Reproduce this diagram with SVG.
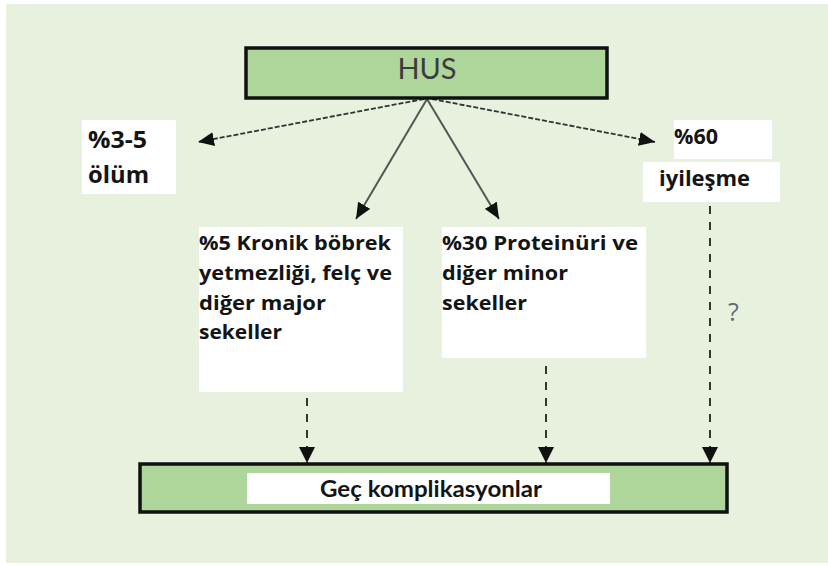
<svg xmlns="http://www.w3.org/2000/svg" width="828" height="566" viewBox="0 0 828 566">
<defs>
<style>
.box{fill:#AFD69A;stroke:#111;stroke-width:3.5}
.wb{fill:#fff}
.lbl{font-family:"Open Sans","Liberation Sans",sans-serif;font-weight:bold;fill:#141414}
.solid{stroke:#555;stroke-width:2;fill:none}
.fine{stroke:#333;stroke-width:1.8;fill:none;stroke-dasharray:5 2}
.dash{stroke:#222;stroke-width:1.8;fill:none;stroke-dasharray:8 8}
</style>
<marker id="ah" viewBox="0 0 16 14" refX="16" refY="7" markerWidth="16" markerHeight="14" markerUnits="userSpaceOnUse" orient="auto">
<path d="M0,0 L16,7 L0,14 Z" fill="#111"/>
</marker>
<marker id="ahd" viewBox="0 0 18 16" refX="16" refY="8" markerWidth="18" markerHeight="16" markerUnits="userSpaceOnUse" orient="auto">
<path d="M0,0 L16,8 L0,16 Z" fill="#111"/>
</marker>
</defs>
<rect x="0" y="0" width="828" height="566" fill="#fff"/>
<rect x="6" y="4" width="822" height="559" fill="#E8F0DE"/>

<g id="connectors">
<line class="fine" x1="424" y1="99" x2="198" y2="142" marker-end="url(#ah)"/>
<line class="fine" x1="432" y1="99" x2="655" y2="142" marker-end="url(#ah)"/>
<line class="solid" x1="427" y1="99" x2="356" y2="219" marker-end="url(#ah)"/>
<line class="solid" x1="427" y1="99" x2="499" y2="219" marker-end="url(#ah)"/>
<line class="dash" x1="307" y1="398" x2="307" y2="463" marker-end="url(#ahd)"/>
<line class="dash" x1="546" y1="366" x2="546" y2="463" marker-end="url(#ahd)"/>
<line class="dash" x1="710" y1="206" x2="710" y2="463" marker-end="url(#ahd)"/>
<text x="728" y="321" font-family="'Open Sans','Liberation Sans',sans-serif" font-size="25" fill="#5F6B78">?</text>
</g>

<g id="hus">
<rect class="box" x="246" y="48" width="361" height="50"/>
<text x="427" y="79" text-anchor="middle" font-family="Lato,'Liberation Sans',sans-serif" font-size="29" fill="#3C3C3C">HUS</text>
</g>

<g id="olum">
<rect class="wb" x="82" y="120" width="94" height="74"/>
<text class="lbl" x="88" y="148" font-size="24" textLength="59" lengthAdjust="spacingAndGlyphs">%3-5</text>
<text class="lbl" x="88" y="183" font-size="24" textLength="61" lengthAdjust="spacingAndGlyphs">ölüm</text>
</g>

<g id="iyilesme">
<rect class="wb" x="674" y="120" width="98" height="39"/>
<rect class="wb" x="643" y="162" width="137" height="40"/>
<text class="lbl" x="674" y="144" font-size="21" textLength="44" lengthAdjust="spacingAndGlyphs">%60</text>
<text class="lbl" x="659" y="186" font-size="21" textLength="91" lengthAdjust="spacingAndGlyphs">iyileşme</text>
</g>

<g id="major">
<rect class="wb" x="199" y="227" width="204" height="165"/>
<text class="lbl" font-size="20"><tspan x="199" y="250" textLength="192" lengthAdjust="spacingAndGlyphs">%5 Kronik böbrek</tspan><tspan x="199" y="280" textLength="193" lengthAdjust="spacingAndGlyphs">yetmezliği, felç ve</tspan><tspan x="199" y="310" textLength="127" lengthAdjust="spacingAndGlyphs">diğer major</tspan><tspan x="199" y="339" textLength="83" lengthAdjust="spacingAndGlyphs">sekeller</tspan></text>
</g>

<g id="minor">
<rect class="wb" x="442" y="227" width="204" height="131"/>
<text class="lbl" font-size="20"><tspan x="442" y="250" textLength="196" lengthAdjust="spacingAndGlyphs">%30 Proteinüri ve</tspan><tspan x="442" y="280" textLength="126" lengthAdjust="spacingAndGlyphs">diğer minor</tspan><tspan x="442" y="310" textLength="85" lengthAdjust="spacingAndGlyphs">sekeller</tspan></text>
</g>

<g id="gec">
<rect class="box" x="140" y="464" width="587" height="48"/>
<rect class="wb" x="247" y="473" width="363" height="31"/>
<text x="320" y="497" font-family="Lato,'Liberation Sans',sans-serif" font-weight="bold" fill="#141414" font-size="22" textLength="222" lengthAdjust="spacingAndGlyphs">Geç komplikasyonlar</text>
</g>
</svg>
